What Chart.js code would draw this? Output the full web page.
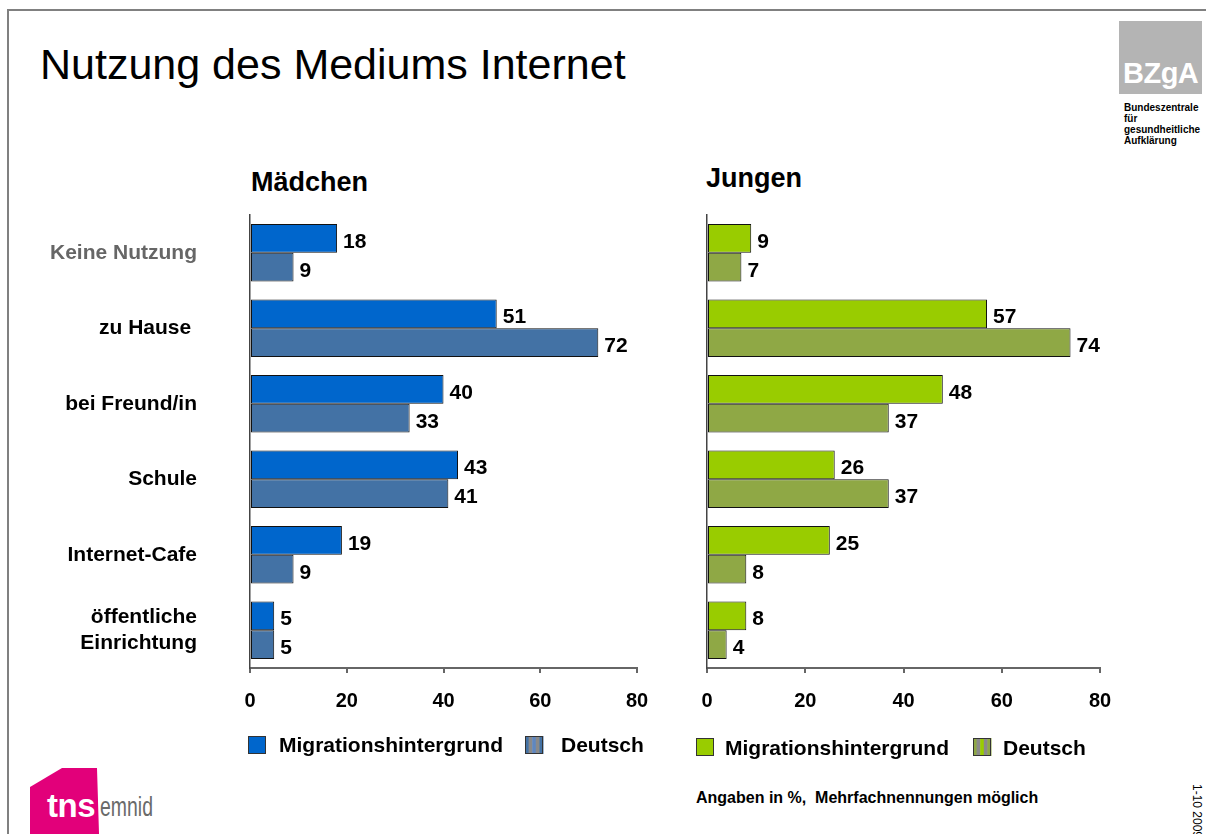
<!DOCTYPE html>
<html>
<head>
<meta charset="utf-8">
<script src="https://cdn.jsdelivr.net/npm/chart.js@4.4.1/dist/chart.umd.min.js"></script>
<style>
  html, body { margin: 0; padding: 0; background: #fff; }
  #page { position: relative; width: 1206px; height: 834px; overflow: hidden; background: #fff;
          font-family: "Liberation Sans", Arial, sans-serif; }
  .abs { position: absolute; white-space: nowrap; line-height: 1; }
  canvas { position: absolute; }
</style>
</head>
<body>
<div id="page">
  <div class="abs" style="left:7px;top:9px;width:1199px;height:2px;background:#808080;"></div>
  <div class="abs" style="left:7px;top:9px;width:2px;height:825px;background:#808080;"></div>

  <div class="abs" style="left:40px;top:43px;font-size:43px;color:#000;">Nutzung des Mediums Internet</div>

  <div class="abs" style="left:1119px;top:21px;width:83px;height:73px;background:#b4b4b4;"></div>
  <div class="abs" style="left:1123px;top:59px;font-size:29px;font-weight:bold;color:#fff;letter-spacing:-0.5px;">BZgA</div>
  <div class="abs" style="left:1124px;top:102px;font-size:10px;line-height:11px;font-weight:bold;color:#000;">Bundeszentrale<br>für<br>gesundheitliche<br>Aufklärung</div>

  <div class="abs" style="left:251px;top:169px;font-size:27px;font-weight:bold;color:#000;">Mädchen</div>
  <div class="abs" style="left:706px;top:165px;font-size:27px;font-weight:bold;color:#000;">Jungen</div>

  <div class="abs" style="left:696px;top:790px;font-size:16px;font-weight:bold;color:#000;">Angaben in %,&nbsp; Mehrfachnennungen möglich</div>

  <div class="abs" style="left:1203px;top:784px;font-size:12px;color:#000;transform:rotate(90deg);transform-origin:0 0;">1-10 2009</div>

  <div class="abs" style="left:30px;top:768px;width:69px;height:66px;background:#e2007a;clip-path:polygon(32px 0,67px 0,69px 66px,0 66px,0 19px);"></div>
  <div class="abs" style="left:47px;top:789px;font-size:33px;font-weight:bold;color:#fff;letter-spacing:-0.5px;">tns</div>
  <div class="abs" style="left:100px;top:794px;font-size:27px;color:#6a6a6a;transform:scaleX(0.72);transform-origin:0 0;">emnid</div>

  <canvas id="left" width="620" height="580" style="left:40px;top:200px;"></canvas>
  <canvas id="right" width="440" height="580" style="left:690px;top:200px;"></canvas>
</div>

<script>
// ---------- data ----------
const categories = ["Keine Nutzung", "zu Hause ", "bei Freund/in", "Schule", "Internet-Cafe", ["öffentliche", "Einrichtung"]];
const categoryColors = ["#666666", "#000000", "#000000", "#000000", "#000000", "#000000"];
const seriesNames = ["Migrationshintergrund", "Deutsch"];
const maedchenMigration = [18, 51, 40, 43, 19, 5];
const maedchenDeutsch   = [9, 72, 33, 41, 9, 5];
const jungenMigration   = [9, 57, 48, 26, 25, 8];
const jungenDeutsch     = [7, 74, 37, 37, 8, 4];
const xTicks = [0, 20, 40, 60, 80];

// ---------- setup ----------
Chart.defaults.font.family = '"Liberation Sans", Arial, sans-serif';
Chart.defaults.color = '#000';

const valueLabels = {
  id: 'valueLabels',
  afterDatasetsDraw(chart) {
    const ctx = chart.ctx;
    ctx.save();
    ctx.font = 'bold 21px "Liberation Sans", Arial, sans-serif';
    ctx.fillStyle = '#000';
    ctx.textAlign = 'left';
    ctx.textBaseline = 'alphabetic';
    chart.data.datasets.forEach((ds, di) => {
      const meta = chart.getDatasetMeta(di);
      meta.data.forEach((el, i) => {
        ctx.fillText(String(ds.data[i]), el.x + 6, el.y + 9.5);
      });
    });
    ctx.restore();
  }
};

const customLegend = {
  id: 'customLegend',
  afterDraw(chart, args, opts) {
    const ctx = chart.ctx;
    ctx.save();
    ctx.font = 'bold 21px "Liberation Sans", Arial, sans-serif';
    ctx.textBaseline = 'alphabetic';
    ctx.textAlign = 'left';
    chart.data.datasets.forEach((ds, di) => {
      const it = opts.items[di];
      const s = 18;
      const x = it.boxX, y = opts.boxY;
      if (di === 1) {
        const stripes = [ds.backgroundColor, '#8a8a8a', opts.stripeColor, '#8a8a8a', ds.backgroundColor];
        const w = s / stripes.length;
        stripes.forEach((c, k) => { ctx.fillStyle = c; ctx.fillRect(x + k * w, y, w + 0.5, s); });
      } else {
        ctx.fillStyle = ds.backgroundColor;
        ctx.fillRect(x, y, s, s);
      }
      ctx.strokeStyle = '#333';
      ctx.lineWidth = 1;
      ctx.strokeRect(x + 0.5, y + 0.5, s - 1, s - 1);
      ctx.fillStyle = '#000';
      ctx.fillText(ds.label, it.textX, opts.textY);
    });
    ctx.restore();
  }
};

function makeChart(id, dataA, dataB, colA, colB, cfg) {
  return new Chart(document.getElementById(id), {
    type: 'bar',
    data: {
      labels: categories,
      datasets: [
        { label: seriesNames[0], data: dataA, backgroundColor: colA, borderColor: '#111', borderWidth: 1, borderSkipped: false },
        { label: seriesNames[1], data: dataB, backgroundColor: colB, borderColor: '#111', borderWidth: 1, borderSkipped: false }
      ]
    },
    options: {
      indexAxis: 'y',
      responsive: false,
      animation: false,
      devicePixelRatio: 1,
      layout: { padding: { top: 15, right: cfg.padRight, left: 0, bottom: 60 } },
      datasets: { bar: { categoryPercentage: 0.76, barPercentage: 1.0 } },
      scales: {
        x: {
          type: 'linear', min: xTicks[0], max: xTicks[xTicks.length - 1],
          afterBuildTicks(scale) { scale.ticks = xTicks.map(v => ({ value: v })); },
          afterFit(scale) { scale.height = 52; scale.paddingLeft = 0; scale.paddingRight = 0; },
          ticks: { font: { size: 20, weight: 'bold' }, color: '#000', padding: 16 },
          grid: { drawOnChartArea: false, drawTicks: true, tickLength: 5, color: '#666', lineWidth: 2 },
          border: { display: true, color: '#666', width: 2 }
        },
        y: {
          type: 'category',
          afterFit(scale) { scale.width = cfg.yWidth; scale.paddingTop = 0; scale.paddingBottom = 0; },
          ticks: {
            display: cfg.showLabels, autoSkip: false, padding: 53,
            font: { size: 21, weight: 'bold' },
            color: (c) => categoryColors[c.index]
          },
          grid: { display: false, drawTicks: false },
          border: { display: true, color: '#444', width: 1.5 }
        }
      },
      plugins: {
        legend: { display: false },
        tooltip: { enabled: false },
        customLegend: cfg.legend
      }
    },
    plugins: [valueLabels, customLegend]
  });
}

makeChart('left', maedchenMigration, maedchenDeutsch, '#0066cc', '#4372a5', {
  padRight: 23, yWidth: 210, showLabels: true,
  legend: { boxY: 536, textY: 552, stripeColor: '#5f87c0', items: [ { boxX: 208, textX: 239 }, { boxX: 485, textX: 521 } ] }
});
makeChart('right', jungenMigration, jungenDeutsch, '#99cc00', '#8fa845', {
  padRight: 30, yWidth: 17, showLabels: false,
  legend: { boxY: 538, textY: 555, stripeColor: '#99cc00', items: [ { boxX: 6, textX: 35 }, { boxX: 283, textX: 313 } ] }
});
</script>
</body>
</html>
